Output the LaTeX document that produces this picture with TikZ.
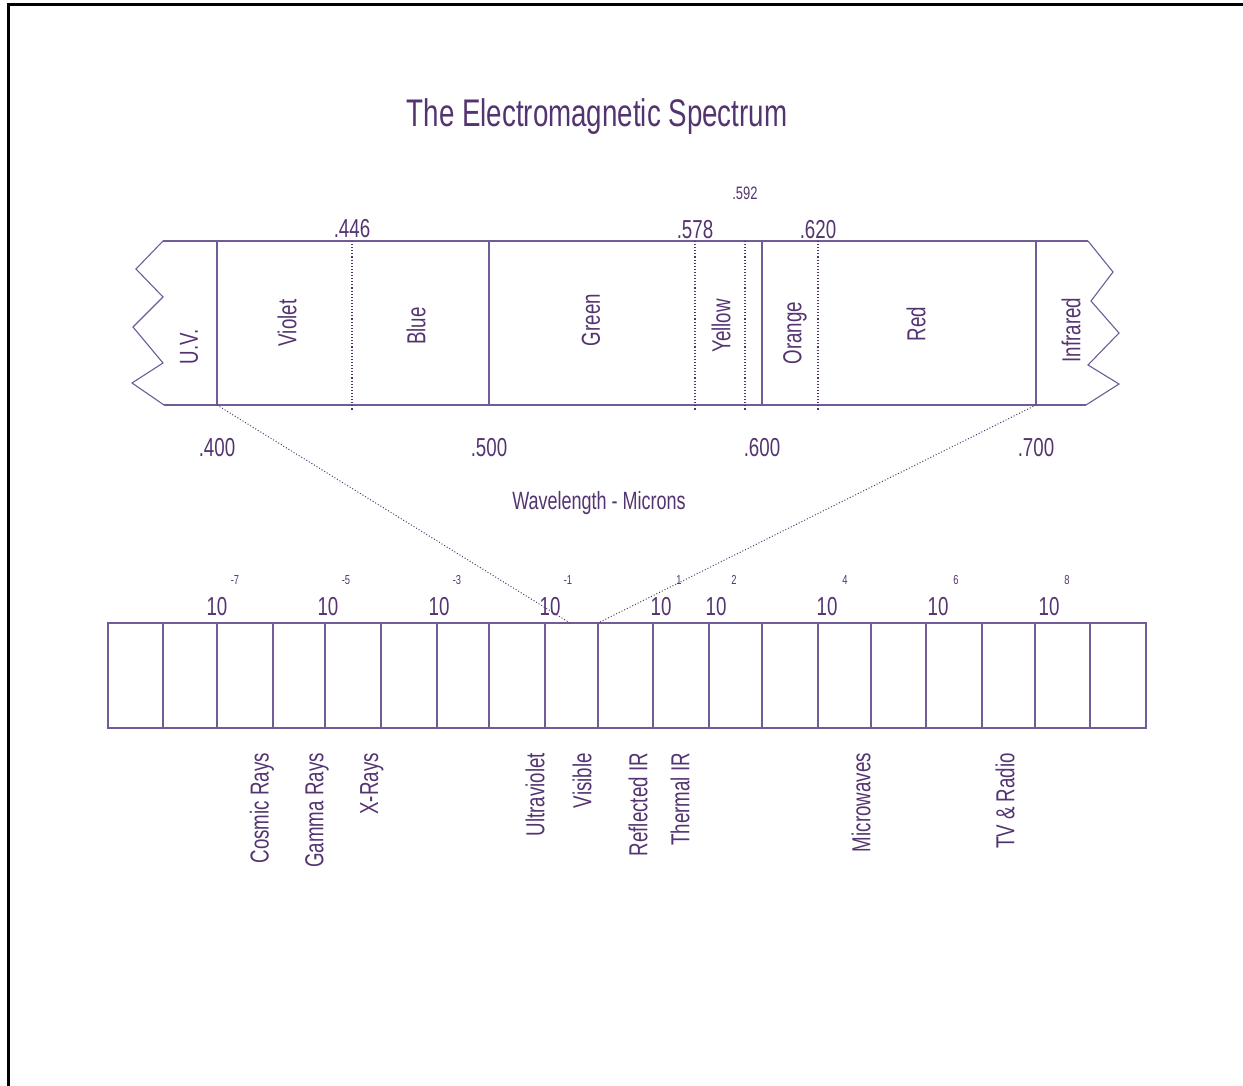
\documentclass[tikz,border=0pt]{standalone}
\usepackage{fontspec}
\setmainfont[FakeStretch=0.72]{Liberation Sans}
\usepackage{xcolor}
\usepackage{tikz}
\usetikzlibrary{positioning, calc}
\definecolor{EMText}{RGB}{84, 52, 112}
\definecolor{EMLine}{RGB}{112, 92, 150}

\begin{document}
\begin{tikzpicture}[x=1pt, y=-1pt,
    bandline/.style={EMLine, line width=1.1pt},
    cutline/.style={EMText, line width=1.1pt, dotted},
    zoomline/.style={EMText, line width=1pt, dotted},
    bandlabel/.style={text=EMText, rotate=90, inner sep=0pt, font=\fontsize{26}{30}\selectfont},
    ticklabel/.style={text=EMText, inner sep=0pt, font=\fontsize{26}{30}\selectfont},
    smalllabel/.style={text=EMText, inner sep=0pt, font=\fontsize{18}{21}\selectfont},
    explabel/.style={text=EMText, inner sep=0pt, font=\fontsize{13}{15}\selectfont},
    rangename/.style={text=EMText, rotate=90, anchor=east, inner sep=0pt, font=\fontsize{26}{30}\selectfont}]
    \path[use as bounding box] (0,0) rectangle (1243,1086);
    % frame
    \draw[black, line width=3pt] (1243,4.5) -- (8,4.5) -- (8,1086);
    \node[text=EMText, inner sep=0pt, font=\fontsize{38.5}{42}\selectfont] (title) at (597,117) {The Electromagnetic Spectrum};

    % visible band
    \coordinate (w400) at (217,405);
    \coordinate (w500) at (489,405);
    \coordinate (w600) at (762,405);
    \coordinate (w700) at (1036,405);
    \draw[bandline] (163,241) -- (1088,241);
    \draw[bandline] (164,405) -- (1086,405);
    \draw[bandline] (163,241) -- (136,269) -- (163,297) -- (133,327) -- (163,363) -- (132,383) -- (164,405);
    \draw[bandline] (1088,241) -- (1113,272) -- (1091,301) -- (1119,333) -- (1088,365) -- (1119,384) -- (1086,405);
    \foreach \x in {217,489,762,1036}
      \draw[bandline] (\x,241) -- (\x,405);
    \foreach \x in {352,695,745,818}
      \draw[cutline] (\x,241) -- (\x,411);

    \node[bandlabel] (uv) at (189,347) {U.V.};
    \node[bandlabel] (violet) at (287,323) {Violet};
    \node[bandlabel] (blue) at (416,326) {Blue};
    \node[bandlabel] (green) at (591,320) {Green};
    \node[bandlabel] (yellow) at (721,326) {Yellow};
    \node[bandlabel] (orange) at (795,333) {Orange};
    \node[bandlabel] (red) at (916,324) {Red};
    \node[bandlabel] (infrared) at (1071,330) {Infrared};

    % wavelength marks
    \node[ticklabel] (l446) at (352,229) {.446};
    \node[ticklabel] (l578) at (695,230) {.578};
    \node[smalllabel] (l592) at (745,193) {.592};
    \node[ticklabel] (l620) at (818,230) {.620};
    \node[ticklabel] (l400) at (217,448) {.400};
    \node[ticklabel] (l500) at (489,448) {.500};
    \node[ticklabel] (l600) at (762,448) {.600};
    \node[ticklabel] (l700) at (1036,448) {.700};
    \node[text=EMText, inner sep=0pt, font=\fontsize{25}{30}\selectfont] (unit) at (599,503) {Wavelength - Microns};

    % full spectrum bar
    \draw[bandline] (108,623) rectangle (1146,728);
    \foreach \x in {163,217,273,325,381,437,489,545,598,653,709,762,818,871,926,982,1035,1090}
      \draw[bandline] (\x,623) -- (\x,728);
    \coordinate (vis-a) at (570,623);
    \coordinate (vis-b) at (598,623);
    \draw[zoomline] (w400) -- (vis-a);
    \draw[zoomline] (w700) -- (vis-b);

    \foreach \x/\e in {217/-7,328/-5,439/-3,550/-1,661/1,716/2,827/4,938/6,1049/8} {
      \node[ticklabel] (ten\e) at (\x,607) {10};
      \node[explabel] (exp\e) at ($(ten\e)+(18,-27)$) {\e};
    }

    \node[rangename] (cosmic) at (262,753) {Cosmic Rays};
    \node[rangename] (gamma) at (317,753) {Gamma Rays};
    \node[rangename] (xray) at (372,753) {X-Rays};
    \node[rangename] (ultra) at (535,753) {Ultraviolet};
    \node[rangename] (visible) at (582,753) {Visible};
    \node[rangename] (reflir) at (638,753) {Reflected IR};
    \node[rangename] (thermir) at (680,753) {Thermal IR};
    \node[rangename] (micro) at (861,753) {Microwaves};
    \node[rangename] (radio) at (1005,753) {TV \& Radio};
\end{tikzpicture}
\end{document}
